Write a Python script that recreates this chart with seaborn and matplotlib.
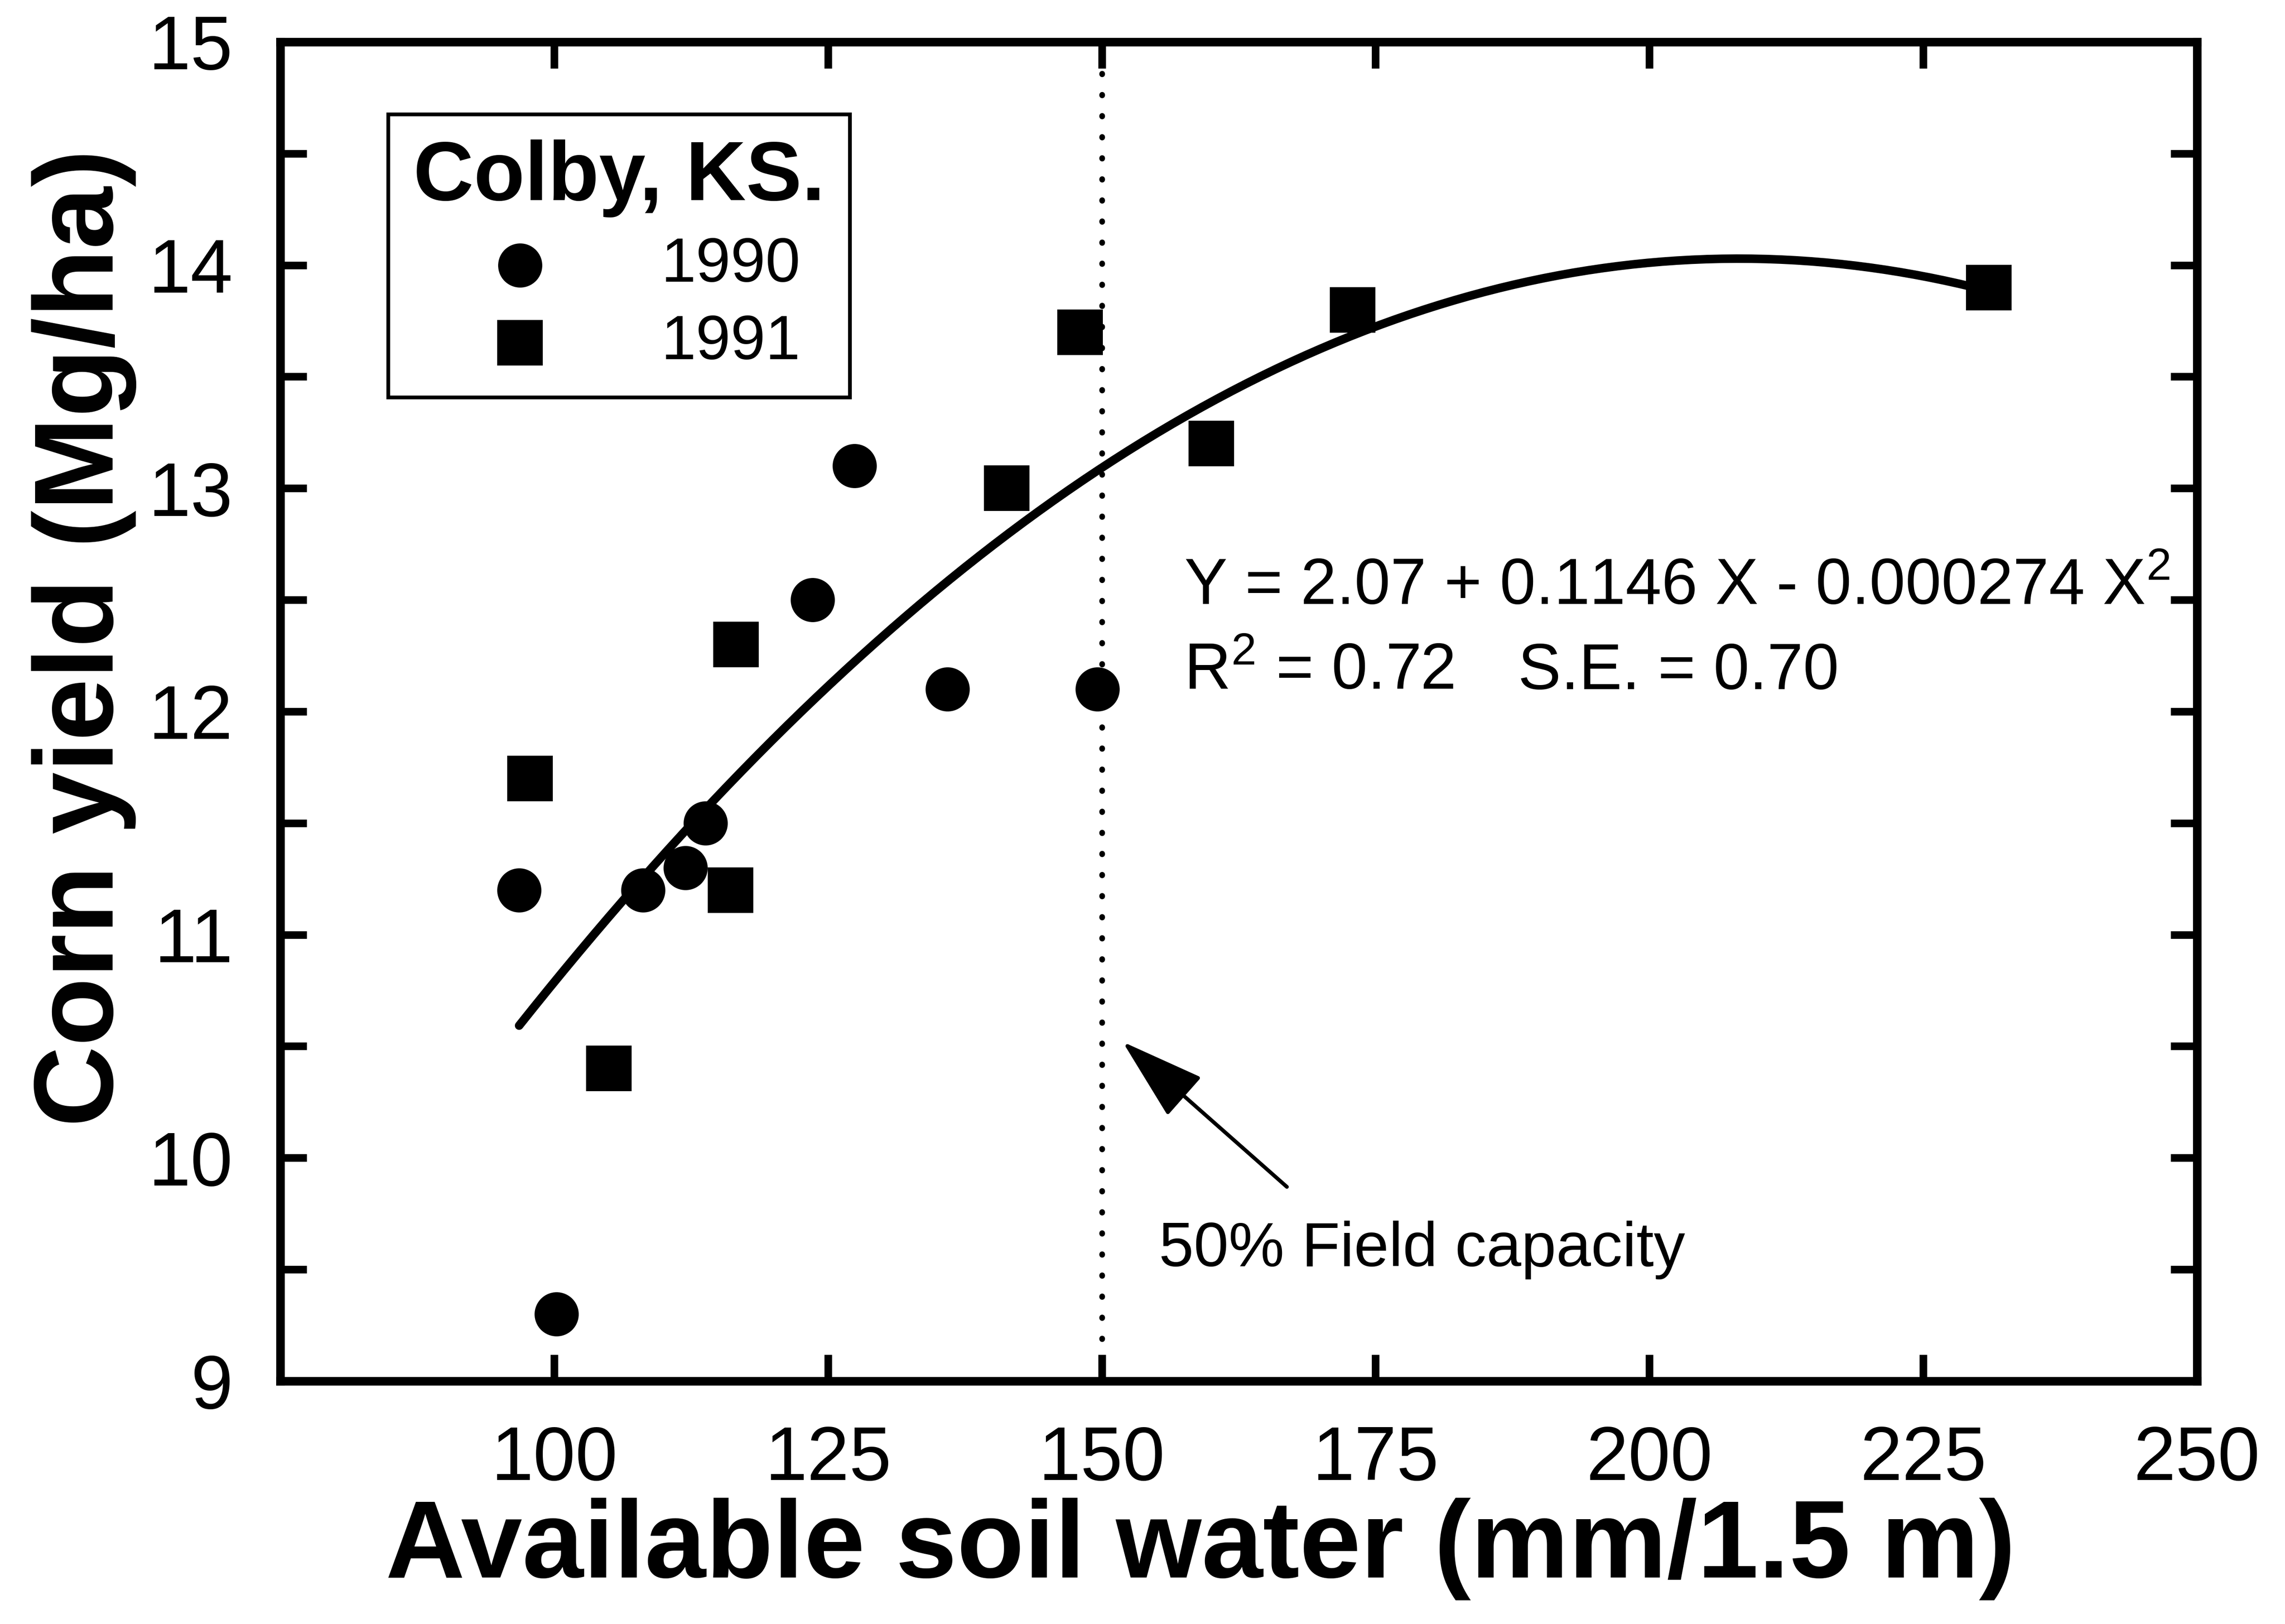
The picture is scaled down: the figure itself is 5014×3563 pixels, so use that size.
"""Corn yield vs available soil water at Colby, KS (1990 and 1991)."""
import matplotlib

matplotlib.use("Agg")
import matplotlib.pyplot as plt  # noqa: E402
import numpy as np  # noqa: E402
import pandas as pd  # noqa: E402
import seaborn as sns  # noqa: E402
from matplotlib.ticker import MultipleLocator  # noqa: E402

# values
water_1990 = [96.8, 100.2, 108.1, 112.0, 113.8, 123.6, 127.4, 135.9, 149.6]
yield_1990 = [11.2, 9.3, 11.2, 11.3, 11.5, 12.5, 13.1, 12.1, 12.1]
water_1991 = [97.8, 105.0, 116.1, 116.6, 141.3, 148.0, 160.0, 172.9, 231.0]
yield_1991 = [11.7, 10.4, 11.2, 12.3, 13.0, 13.7, 13.2, 13.8, 13.9]

years = ["1990", "1991"]
x_ticks = [100, 125, 150, 175, 200, 225, 250]
y_ticks = [9, 10, 11, 12, 13, 14, 15]
half_field_capacity = 150

df = pd.DataFrame(
    {
        "water": water_1990 + water_1991,
        "yield": yield_1990 + yield_1991,
        "year": [years[0]] * len(water_1990) + [years[1]] * len(water_1991),
    }
)

sns.set_style("ticks")
plt.rcParams["font.family"] = ["Liberation Sans", "DejaVu Sans"]
plt.rcParams["mathtext.fontset"] = "custom"
plt.rcParams["mathtext.rm"] = "Liberation Sans"
plt.rcParams["mathtext.it"] = "Liberation Sans:italic"
plt.rcParams["mathtext.bf"] = "Liberation Sans:bold"
for key in ["text.color", "axes.labelcolor", "xtick.color", "ytick.color",
            "axes.edgecolor"]:
    plt.rcParams[key] = "black"

fig = plt.figure(figsize=(5014 / 300, 3563 / 300), dpi=300)
ax = fig.add_axes([0.1227, 0.1496, 0.9615 - 0.1227, 0.9742 - 0.1496])

ax.axvline(half_field_capacity, color="black", linewidth=3,
           linestyle=(0, (0.1, 3.6)), dash_capstyle="round", zorder=1)

sns.regplot(data=df, x="water", y="yield", order=2, ci=None, scatter=False,
            color="black", line_kws={"linewidth": 4.5}, ax=ax)

for year, marker, size in zip(years, ["o", "s"], [540, 576]):
    sns.scatterplot(data=df[df["year"] == year], x="water", y="yield",
                    marker=marker, s=size, color="black", linewidth=0,
                    legend=False, ax=ax, zorder=3)

ax.set_xlim(75, 250)
ax.set_ylim(9, 15)
ax.set_xticks(x_ticks)
ax.set_yticks(y_ticks)
ax.yaxis.set_minor_locator(MultipleLocator(0.5))
ax.tick_params(which="both", direction="in", top=True, right=True,
               length=14, width=4, color="black", labelcolor="black")
ax.tick_params(axis="x", labelsize=40, pad=23)
ax.tick_params(axis="y", labelsize=40, pad=25)
for spine in ax.spines.values():
    spine.set_linewidth(4.5)
    spine.set_color("black")

ax.set_xlabel("Available soil water (mm/1.5 m)", fontsize=58, fontweight="bold")
ax.set_ylabel("Corn yield (Mg/ha)", fontsize=59, fontweight="bold")
ax.xaxis.set_label_coords(0.48, -0.087)
ax.yaxis.set_label_coords(-0.075, 0.555)

leg = ax.legend(
    handles=ax.collections[:2], labels=years, title="Colby, KS.",
    loc="upper left", bbox_to_anchor=(0.0563, 0.946), borderaxespad=0,
    frameon=True, fancybox=False, framealpha=1, edgecolor="black",
    prop={"size": 33}, title_fontproperties={"size": 44, "weight": "bold"},
    handlelength=3.4, handletextpad=0.55, borderpad=0.4, labelspacing=0.3,
    alignment="left",
)
leg.get_frame().set_linewidth(2)

ax.text(157.5, 12.48, r"Y = 2.07 + 0.1146 X - 0.000274 $\mathrm{X}^{2}$",
        fontsize=34, va="baseline")
ax.text(157.5, 12.10, r"$\mathrm{R}^{2}$ = 0.72", fontsize=34, va="baseline")
ax.text(188.0, 12.10, "S.E. = 0.70", fontsize=34, va="baseline")

ax.annotate("", xy=(151.9, 10.52), xytext=(166.9, 9.87),
            arrowprops=dict(arrowstyle="-|>,head_length=0.39,head_width=0.12",
                            mutation_scale=100, color="black", linewidth=2,
                            shrinkA=0, shrinkB=0))
ax.text(155.2, 9.515, "50% Field capacity", fontsize=33, va="baseline")

fig.savefig("out.png", dpi=300)
plt.close(fig)
